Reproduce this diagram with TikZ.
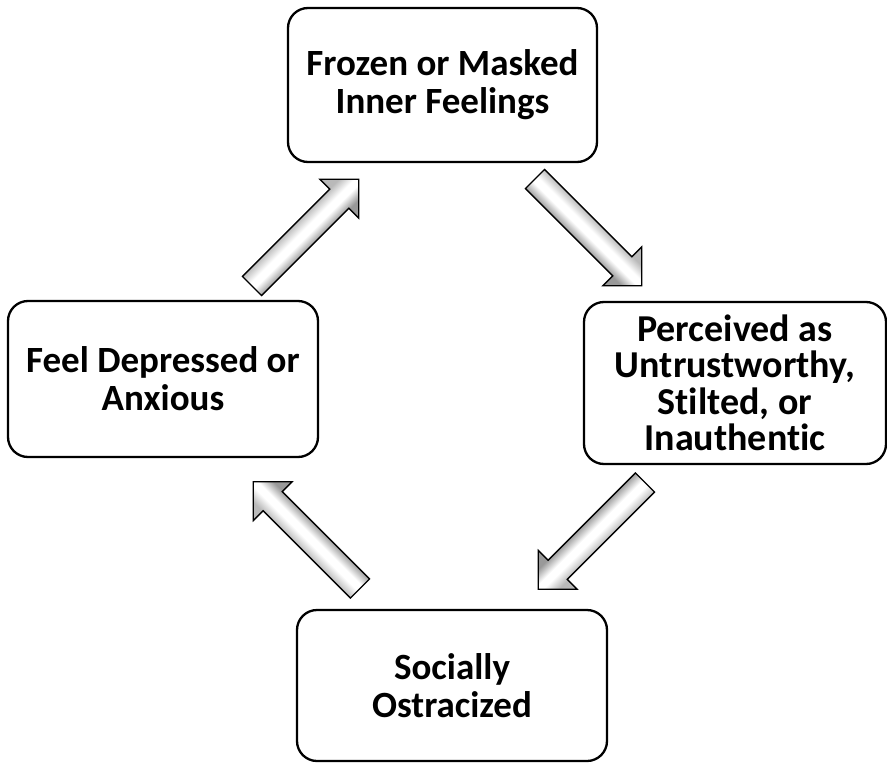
\documentclass[tikz,border=0pt]{standalone}
\usepackage{fontspec}
\setmainfont{Carlito}[Ligatures=NoCommon]
\pgfdeclareverticalshading{arrshade}{100bp}{color(0bp)=(gray!80); color(37bp)=(gray!80); color(47bp)=(white); color(53bp)=(white); color(63bp)=(gray!55); color(100bp)=(gray!55)}
\begin{document}
\begin{tikzpicture}[x=1pt,y=-1pt,
  box/.style={draw=black, line width=2.3pt, rounded corners=20pt, fill=white,
    align=center, inner sep=0pt, font=\bfseries\fontsize{37}{38}\selectfont},
  blockarr/.style={draw=black, line width=1.3pt, line join=miter, shading=arrshade}
]
\useasboundingbox (0,0) rectangle (887,763);

\node[box, minimum width=309pt, minimum height=154pt] (top) at (442.5,85) {Frozen or Masked\\Inner Feelings};
\node[box, minimum width=302pt, minimum height=162pt, font=\bfseries\fontsize{38}{36.5}\selectfont] (right) at (735,383) {Perceived as\\Untrustworthy,\\Stilted, or\\Inauthentic};
\node[box, minimum width=310pt, minimum height=156pt] (left) at (163,379) {Feel Depressed or\\Anxious};
\node[box, minimum width=310pt, minimum height=151pt] (bottom) at (452,685.5) {Socially\\Ostracized};

\newcommand{\arrowpoly}{(0,-13.5) -- (123.5,-13.5) -- (123.5,-27.5) -- (151,0) -- (123.5,27.5) -- (123.5,13.5) -- (0,13.5) -- cycle}
\begin{scope}[transform canvas={shift={(252,286)}, rotate=45}]
  \path[blockarr] \arrowpoly;
\end{scope}
\begin{scope}[transform canvas={shift={(535,179)}, rotate=-45}]
  \path[blockarr] \arrowpoly;
\end{scope}
\begin{scope}[transform canvas={shift={(645,482.5)}, rotate=-135}]
  \path[blockarr] \arrowpoly;
\end{scope}
\begin{scope}[transform canvas={shift={(360,588.5)}, rotate=135}]
  \path[blockarr] \arrowpoly;
\end{scope}
\end{tikzpicture}
\end{document}
